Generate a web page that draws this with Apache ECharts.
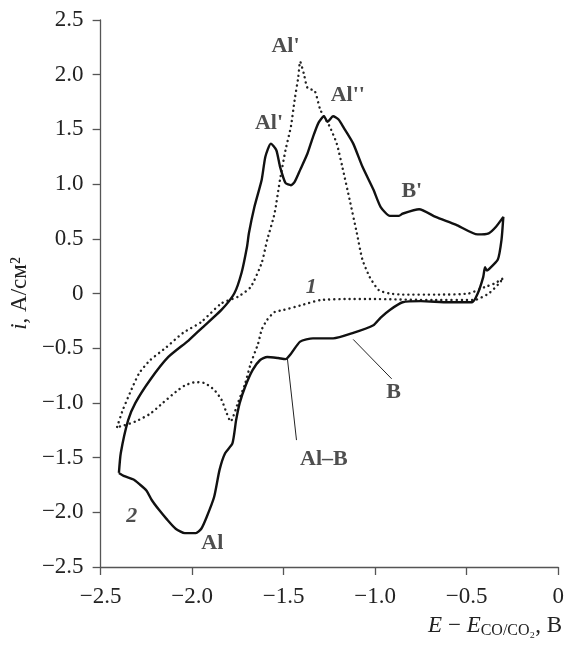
<!DOCTYPE html>
<html>
<head>
<meta charset="utf-8">
<script src="https://cdn.jsdelivr.net/npm/echarts@6/dist/echarts.min.js"></script>
<style>
  html, body { margin: 0; padding: 0; background: #fff; }
  #chart { width: 567px; height: 646px; }
</style>
</head>
<body>
<div id="chart"></div>
<script>
// curve 2 (solid) — full cycle
const curve2 = [
  [-2.40,-1.64],[-2.39,-1.46],[-2.35,-1.16],[-2.31,-1.00],[-2.23,-0.79],[-2.13,-0.58],
  [-2.02,-0.43],[-1.95,-0.32],[-1.84,-0.15],[-1.77,0.00],[-1.73,0.19],[-1.70,0.43],
  [-1.69,0.55],[-1.66,0.79],[-1.62,1.04],[-1.60,1.25],[-1.57,1.37],[-1.54,1.31],
  [-1.52,1.16],[-1.49,1.01],[-1.46,0.99],[-1.44,1.02],[-1.41,1.13],[-1.37,1.28],
  [-1.34,1.43],[-1.31,1.56],[-1.28,1.62],[-1.26,1.57],[-1.23,1.62],[-1.20,1.59],
  [-1.17,1.51],[-1.12,1.37],[-1.07,1.16],[-1.01,0.95],[-0.97,0.79],[-0.92,0.71],
  [-0.87,0.71],[-0.85,0.73],[-0.76,0.77],[-0.67,0.70],[-0.56,0.63],[-0.44,0.54],
  [-0.38,0.55],[-0.34,0.61],[-0.30,0.70],[-0.31,0.49],[-0.33,0.31],[-0.38,0.22],
  [-0.39,0.21],[-0.40,0.24],[-0.41,0.15],[-0.44,0.00],[-0.47,-0.08],[-0.60,-0.08],
  [-0.75,-0.07],[-0.85,-0.08],[-0.92,-0.15],[-0.97,-0.22],[-1.01,-0.29],[-1.12,-0.36],
  [-1.23,-0.41],[-1.34,-0.41],[-1.41,-0.44],[-1.46,-0.55],[-1.49,-0.60],[-1.53,-0.59],
  [-1.59,-0.58],[-1.63,-0.61],[-1.67,-0.70],[-1.71,-0.85],[-1.74,-1.00],[-1.76,-1.16],
  [-1.78,-1.37],[-1.82,-1.46],[-1.85,-1.61],[-1.88,-1.86],[-1.92,-2.04],[-1.95,-2.15],
  [-1.98,-2.19],[-2.04,-2.19],[-2.09,-2.15],[-2.14,-2.06],[-2.18,-1.98],[-2.22,-1.89],
  [-2.25,-1.80],[-2.29,-1.74],[-2.32,-1.70],[-2.37,-1.67],[-2.40,-1.64]
];

// curve 1 (dotted)
const curve1 = [
  [-2.41,-1.22],[-2.38,-1.07],[-2.34,-0.91],[-2.29,-0.73],[-2.23,-0.61],[-2.14,-0.49],
  [-2.05,-0.36],[-1.95,-0.26],[-1.84,-0.09],[-1.75,-0.03],[-1.68,0.06],[-1.62,0.28],
  [-1.59,0.49],[-1.55,0.73],[-1.52,1.04],[-1.49,1.31],[-1.46,1.53],[-1.44,1.77],
  [-1.42,1.98],[-1.41,2.12],[-1.39,2.01],[-1.37,1.88],[-1.33,1.85],[-1.30,1.68],
  [-1.25,1.53],[-1.21,1.37],[-1.18,1.16],[-1.14,0.86],[-1.10,0.55],[-1.07,0.31],
  [-1.03,0.15],[-0.98,0.03],[-0.92,0.00],[-0.85,-0.01],[-0.67,-0.01],[-0.49,0.00],
  [-0.40,0.06],[-0.35,0.09],[-0.30,0.14],[-0.33,0.08],[-0.38,0.00],[-0.46,-0.06],
  [-0.67,-0.06],[-1.03,-0.05],[-1.14,-0.05],[-1.30,-0.06],[-1.41,-0.11],[-1.50,-0.15],
  [-1.55,-0.17],[-1.59,-0.24],[-1.62,-0.33],[-1.64,-0.46],[-1.68,-0.64],[-1.71,-0.82],
  [-1.75,-1.00],[-1.79,-1.17],[-1.81,-1.10],[-1.84,-0.97],[-1.88,-0.88],[-1.93,-0.82],
  [-1.98,-0.81],[-2.04,-0.84],[-2.09,-0.90],[-2.16,-1.00],[-2.23,-1.10],[-2.31,-1.17],
  [-2.38,-1.21],[-2.41,-1.22]
];

// peak labels [x, y, text]
const peakLabels = [
  [-1.49, 2.26, "Al'"],
  [-1.58, 1.56, "Al'"],
  [-1.15, 1.81, "Al''"],
  [-0.80, 0.93, "B'"],
  [-0.90, -0.90, "B"],
  [-1.28, -1.52, "Al–B"],
  [-1.89, -2.28, "Al"]
];
const curveNumbers = [
  [-1.35, 0.06, "1"],
  [-2.33, -2.04, "2"]
];
// leader lines
const leaderB = [[-1.12, -0.42], [-0.91, -0.78]];
const leaderAlB = [[-1.48, -0.59], [-1.43, -1.34]];

const xTicks = { min: -2.5, max: 0, interval: 0.5 };
const yTicks = { min: -2.5, max: 2.5, interval: 0.5 };

const FONT = "Times New Roman, Liberation Serif, serif";
const fmt = v => (Math.abs(v) < 1e-9 ? "0" : v.toFixed(1).replace("-", "−"));

const chart = echarts.init(document.getElementById("chart"));

const axisCommon = {
  type: "value",
  axisLine: { show: true, onZero: false, lineStyle: { color: "#555", width: 1.3 } },
  axisTick: { show: true, inside: false, length: 8, lineStyle: { color: "#555", width: 1.3 } },
  axisLabel: { color: "#222", fontFamily: FONT, fontSize: 23, formatter: fmt },
  splitLine: { show: false }
};

const labelSeries = (data, style) => ({
  type: "scatter",
  symbolSize: 0,
  silent: true,
  data: data.map(d => [d[0], d[1], d[2]]),
  label: Object.assign({
    show: true,
    position: "inside",
    formatter: p => p.data[2],
    color: "#222",
    fontFamily: FONT,
    fontSize: 22
  }, style),
  z: 5
});

const leader = pts => ({
  type: "line",
  data: pts,
  showSymbol: false,
  silent: true,
  lineStyle: { color: "#222", width: 1 }
});

chart.setOption({
  animation: false,
  grid: { left: 97, right: 6, top: 20, bottom: 79, containLabel: false },
  xAxis: Object.assign({}, axisCommon, xTicks, {
    axisLabel: Object.assign({}, axisCommon.axisLabel, { margin: 18 })
  }),
  yAxis: Object.assign({}, axisCommon, yTicks, {
    axisLabel: Object.assign({}, axisCommon.axisLabel, { margin: 17 }),
    name: "{i|i}, А/см²",
    nameLocation: "middle",
    nameRotate: 90,
    nameGap: 66,
    nameTextStyle: {
      fontFamily: FONT, fontSize: 23, color: "#222",
      rich: { i: { fontFamily: FONT, fontSize: 23, fontStyle: "italic", color: "#222" } }
    }
  }),
  graphic: [{
    type: "text",
    right: 5,
    top: 614,
    style: {
      text: "{e|E} − {e|E}{s|CO/CO₂}, В",
      fill: "#222",
      font: "23px " + FONT,
      rich: {
        e: { fontFamily: FONT, fontSize: 23, fontStyle: "italic", fill: "#222" },
        s: { fontFamily: FONT, fontSize: 16, fill: "#222", padding: [10, 0, 0, 0] }
      }
    }
  }],
  series: [
    {
      type: "line",
      data: curve1,
      showSymbol: false,
      smooth: 0.2,
      lineStyle: { color: "#222", width: 2.4, type: [0.1, 5], cap: "round" },
      z: 2
    },
    {
      type: "line",
      data: curve2,
      showSymbol: false,
      smooth: 0.2,
      lineStyle: { color: "#111", width: 2.4 },
      z: 3
    },
    leader(leaderB),
    leader(leaderAlB),
    labelSeries(peakLabels, { fontWeight: "bold" }),
    labelSeries(curveNumbers, { fontStyle: "italic", fontWeight: "bold" })
  ]
});
</script>
</body>
</html>
